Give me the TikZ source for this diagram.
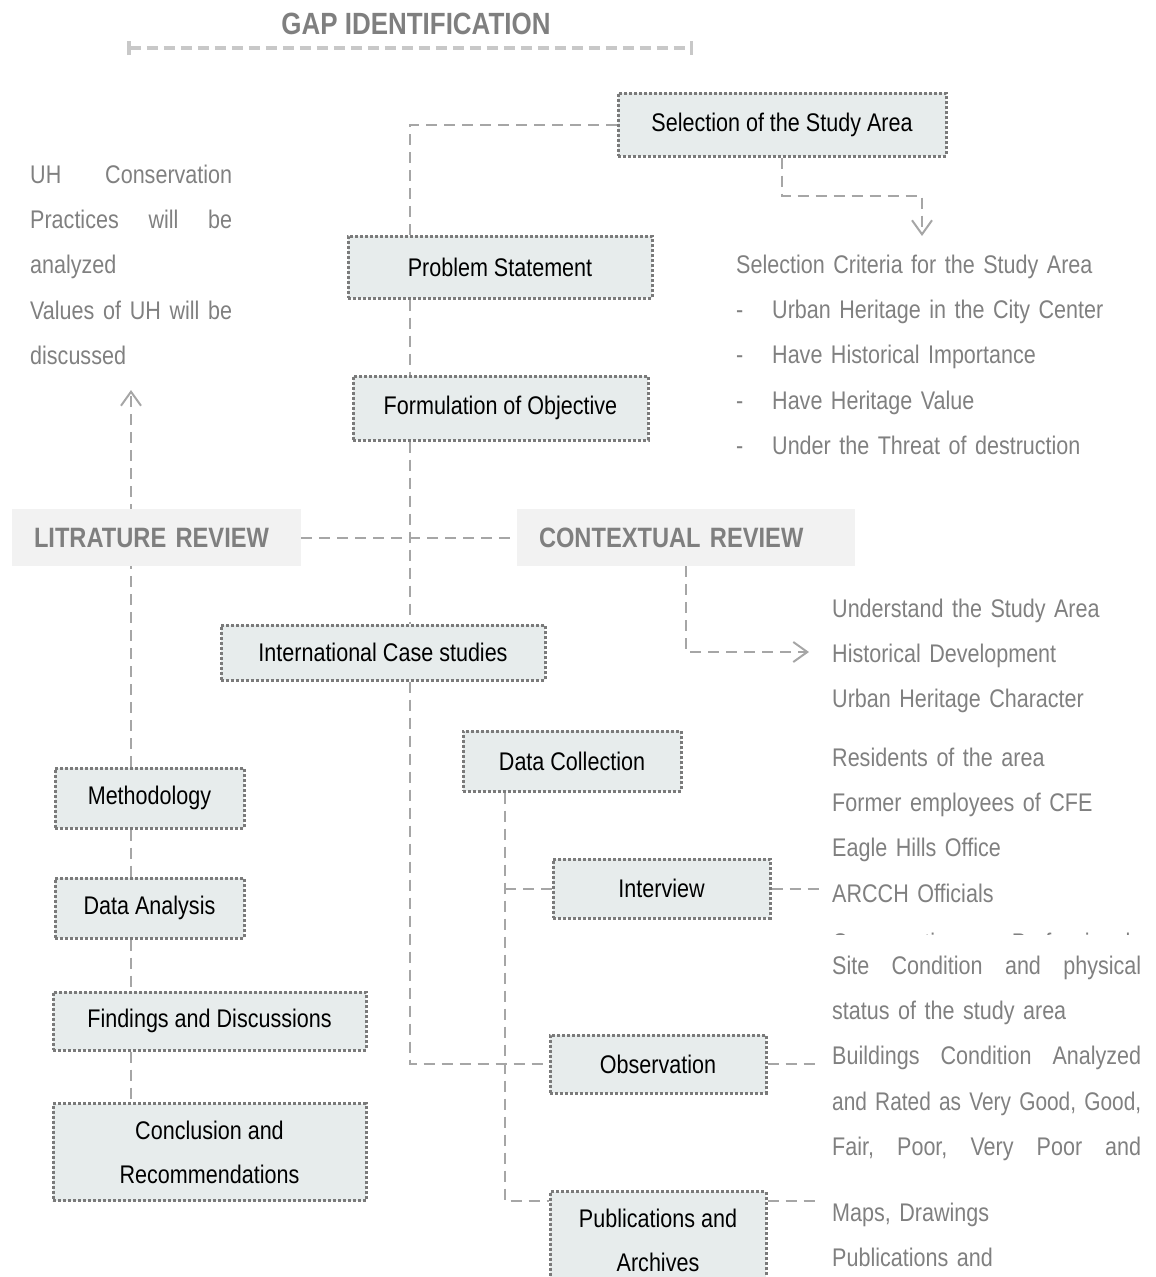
\documentclass[tikz,border=0pt]{standalone}
\usepackage{fontspec}
\setmainfont{Liberation Sans}[FakeStretch=0.845]
\usepackage{graphicx}
\usepackage{xcolor}
\usepackage{tikz}
\usetikzlibrary{arrows.meta,positioning,backgrounds,calc}

\definecolor{boxfill}{HTML}{E7ECEC}
\definecolor{boxline}{HTML}{7A7A7A}
\definecolor{linkgray}{HTML}{A6A6A6}
\definecolor{headfill}{HTML}{F2F2F2}
\definecolor{headtext}{HTML}{7F7F7F}
\definecolor{notetext}{HTML}{808080}
\definecolor{barline}{HTML}{C8C8C8}

% justified line: words are split by \hfill
\newcommand{\jst}[2]{\makebox[#1][s]{#2}}
\newcommand{\blt}{\makebox[36pt][l]{-}}

\begin{document}
\begin{tikzpicture}[x=1pt, y=-1pt,
        stepbox/.style={draw=boxline, fill=boxfill, line width=3pt, dash pattern=on 3pt off 2pt,
                        inner sep=0pt, align=center, text=black, font=\fontsize{25.5}{44}\selectfont},
        head/.style={fill=headfill, text=headtext, inner xsep=22pt, inner ysep=0pt, minimum height=57pt,
                     align=left, font=\fontsize{28}{30}\selectfont\bfseries},
        note/.style={text=notetext, inner sep=0pt, anchor=base west, align=left,
                     font=\fontsize{25.5}{45.2}\selectfont},
        link/.style={draw=linkgray, line width=2pt, dash pattern=on 11pt off 7pt},
        arrow/.style={-{Straight Barb[length=14pt,width=20pt]}},
        bar/.style={draw=barline, line width=3.5pt, dash pattern=on 11pt off 6pt,
                    {Bar[width=14pt]}-{Bar[width=14pt]}}
    ]
        \useasboundingbox (0,0) rectangle (1156,1277);

        % title
        \node[font=\fontsize{30.7}{32}\selectfont\bfseries, text=headtext] (gap) at (416,24) {GAP IDENTIFICATION};
        \coordinate (gapl) at (127,48);
        \coordinate (gapr) at (693,48);

        % main chain
        \node[stepbox, minimum width=328pt, minimum height=63pt] (sel) at (782,124.5) {Selection of the Study Area};
        \node[stepbox, minimum width=304pt, minimum height=62pt] (ps) at (500,267) {Problem Statement};
        \node[stepbox, minimum width=295pt, minimum height=64pt] (fo) at (500.5,408) {Formulation of Objective};
        \node[head, text width=245pt] (lit) at (156.5,537.5) {LITRATURE REVIEW};
        \node[head, text width=294pt] (ctx) at (686,537.5) {CONTEXTUAL REVIEW};
        \node[stepbox, minimum width=324pt, minimum height=55pt] (ics) at (383,652.5) {International Case studies};

        % data collection
        \node[stepbox, minimum width=218pt, minimum height=60pt] (dc) at (572,761) {Data Collection};
        \node[stepbox, minimum width=217pt, minimum height=59pt] (intv) at (661.5,888.5) {Interview};
        \node[stepbox, minimum width=216pt, minimum height=58pt] (obs) at (658,1064) {Observation};
        \node[stepbox, minimum width=216pt, minimum height=97pt] (pub) at (658,1240) {Publications and\\Archives};

        % left column
        \node[stepbox, minimum width=189pt, minimum height=60pt] (meth) at (149.5,798) {Methodology};
        \node[stepbox, minimum width=189pt, minimum height=60pt] (da) at (149.5,908) {Data Analysis};
        \node[stepbox, minimum width=313pt, minimum height=58pt] (fd) at (209.5,1021) {Findings and Discussions};
        \node[stepbox, minimum width=313pt, minimum height=97pt] (cr) at (209.5,1152) {Conclusion and\\Recommendations};

        % notes
        \node[note, text width=202pt] (uh) at (30,183.5)
            {\jst{202pt}{UH\hfill Conservation}\\\jst{202pt}{Practices\hfill will\hfill be}\\analyzed\\
             \jst{202pt}{Values\hfill of\hfill UH\hfill will\hfill be}\\discussed};
        \node[note, text width=400pt] (crit) at (736,273.5)
            {Selection Criteria for the Study Area\\\blt Urban Heritage in the City Center\\\blt Have Historical Importance\\
             \blt Have Heritage Value\\\blt Under the Threat of destruction};
        \node[note, text width=320pt] (ctxnote) at (832,617.5)
            {Understand the Study Area\\Historical Development\\Urban Heritage Character};
        \node[note, text width=320pt] (intnote) at (832,766.5)
            {Residents of the area\\Former employees of CFE\\Eagle Hills Office\\ARCCH Officials};
        \begin{scope}
            \clip (820,900) rectangle (1156,934);
            \node[note, text width=309pt] (cons) at (832,951) {\jst{309pt}{Conservation\hfill Professionals}};
        \end{scope}
        \node[note, text width=309pt] (obsnote) at (832,974.5)
            {\jst{309pt}{Site\hfill Condition\hfill and\hfill physical}\\status of the study area\\
             \jst{309pt}{Buildings\hfill Condition\hfill Analyzed}\\
             \resizebox{309pt}{\height}{and Rated as Very Good, Good,}\\
             \jst{309pt}{Fair,\hfill Poor,\hfill Very\hfill Poor\hfill and}};
        \node[note, text width=309pt] (pubnote) at (832,1221.5) {Maps, Drawings\\Publications and};

        \coordinate (spine) at (410,0);
        \coordinate (lspine) at (131,0);
        \coordinate (dspine) at (505,0);
        \coordinate (pubrow) at (0,1201);
        \coordinate (uptip) at (131,390);
        \coordinate (critbend) at (922,196);
        \coordinate (crittip) at (922,236);
        \coordinate (ctxtip) at (809,652);

        \begin{pgfonlayer}{background}
            \draw[bar] (gapl) -- (gapr);
            \draw[link] (sel.west) -| (spine |- ps.north);
            \draw[link] (spine |- ps.south) -- (spine |- fo.north);
            \draw[link] (spine |- fo.south) -- (spine |- ics.north);
            \draw[link] (spine |- ics.south) |- (obs.west);
            \draw[link] (lit.east) -- (ctx.west);
            \draw[link, arrow] (lspine |- meth.north) -- (uptip);
            \draw[link] (lspine |- meth.south) -- (lspine |- da.north);
            \draw[link] (lspine |- da.south) -- (lspine |- fd.north);
            \draw[link] (lspine |- fd.south) -- (lspine |- cr.north);
            \draw[link, arrow] (sel.south) |- (critbend) -- (crittip);
            \draw[link, arrow] (ctx.south) |- (ctxtip);
            \draw[link] (dspine |- dc.south) |- (pub.west |- pubrow);
            \draw[link] (dspine |- intv.west) -- (intv.west);
            \draw[link] (intv.east) -- ++(50,0);
            \draw[link] (obs.east) -- ++(54,0);
            \draw[link] (pub.east |- pubrow) -- ++(54,0);
        \end{pgfonlayer}
    \end{tikzpicture}
\end{document}
